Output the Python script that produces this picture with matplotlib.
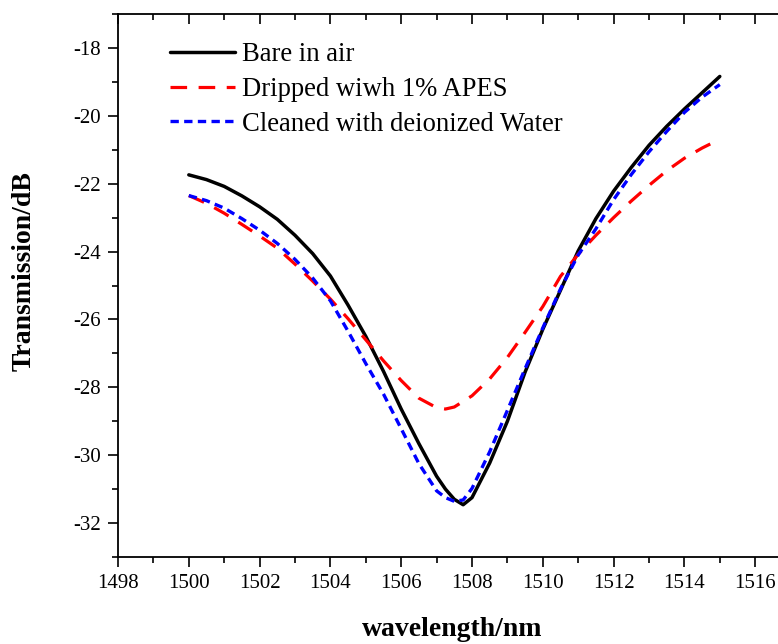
import matplotlib
matplotlib.use("Agg")
import matplotlib.pyplot as plt
from matplotlib.ticker import MultipleLocator

plt.rcParams['font.family'] = ['Liberation Serif', 'DejaVu Serif']
plt.rcParams['axes.unicode_minus'] = False

wl_bare = [1500.0, 1500.5, 1501.0, 1501.5, 1502.0, 1502.5, 1503.0, 1503.5, 1504.0, 1504.5,
           1505.0, 1505.5, 1506.0, 1506.5, 1507.0, 1507.25, 1507.5, 1507.75, 1508.0, 1508.5,
           1509.0, 1509.5, 1510.0, 1510.5, 1511.0, 1511.5, 1512.0, 1512.5, 1513.0, 1513.5,
           1514.0, 1514.5, 1515.0]
t_bare = [-21.74, -21.88, -22.08, -22.36, -22.68, -23.05, -23.52, -24.06, -24.72, -25.58,
          -26.50, -27.53, -28.64, -29.66, -30.62, -31.00, -31.30, -31.46, -31.25, -30.23,
          -29.00, -27.55, -26.29, -25.14, -23.98, -23.03, -22.22, -21.52, -20.87, -20.31,
          -19.80, -19.32, -18.84]

wl_apes = [1500.0, 1500.5, 1501.0, 1501.5, 1502.0, 1502.5, 1503.0, 1503.5, 1504.0, 1504.5,
           1505.0, 1505.5, 1506.0, 1506.5, 1507.0, 1507.25, 1507.5, 1508.0, 1508.5,
           1509.0, 1509.5, 1510.0, 1510.5, 1511.0, 1511.5, 1512.0, 1512.5, 1513.0, 1513.5,
           1514.0, 1514.5, 1515.0]
t_apes = [-22.35, -22.58, -22.87, -23.20, -23.54, -23.90, -24.37, -24.87, -25.40, -25.98,
          -26.60, -27.22, -27.80, -28.32, -28.60, -28.64, -28.58, -28.25, -27.75,
          -27.12, -26.38, -25.62, -24.73, -24.08, -23.52, -23.00, -22.51, -22.05, -21.62,
          -21.25, -20.95, -20.69]

wl_clean = [1500.0, 1500.5, 1501.0, 1501.5, 1502.0, 1502.5, 1503.0, 1503.5, 1504.0, 1504.5,
            1505.0, 1505.5, 1506.0, 1506.5, 1507.0, 1507.25, 1507.5, 1507.75, 1508.0, 1508.5,
            1509.0, 1509.5, 1510.0, 1510.5, 1511.0, 1511.5, 1512.0, 1512.5, 1513.0, 1513.5,
            1514.0, 1514.5, 1515.0]
t_clean = [-22.35, -22.50, -22.72, -23.03, -23.37, -23.76, -24.23, -24.78, -25.45, -26.35,
           -27.30, -28.20, -29.22, -30.25, -31.05, -31.25, -31.36, -31.32, -30.98, -29.90,
           -28.68, -27.45, -26.25, -25.10, -24.10, -23.33, -22.47, -21.73, -21.06, -20.46,
           -19.90, -19.45, -19.08]

labels = ["Bare in air", "Dripped wiwh 1% APES", "Cleaned with deionized Water"]

fig = plt.figure(figsize=(7.78, 6.44), dpi=100)
ax = fig.add_axes([118/778, 1-557/644, 672.6/778, 543/644])

ax.plot(wl_bare, t_bare, color='black', lw=2.5, solid_capstyle='round', label=labels[0])
ax.plot(wl_apes, t_apes, color='red', lw=2.3, dashes=(5.2, 3.6), label=labels[1])
ax.plot(wl_clean, t_clean, color='blue', lw=2.4, dashes=(2.5, 1.6), label=labels[2])

ax.set_xlim(1498, 1517)
ax.set_ylim(-33, -17)
ax.xaxis.set_major_locator(MultipleLocator(2))
ax.xaxis.set_minor_locator(MultipleLocator(1))
ax.yaxis.set_major_locator(MultipleLocator(2))
ax.yaxis.set_minor_locator(MultipleLocator(1))

for s in ax.spines.values():
    s.set_linewidth(1.3)
ax.spines['top'].set_visible(False)

ax.tick_params(axis='both', which='major', direction='out', length=7.5, width=1.2, labelsize=15, pad=5)
ax.tick_params(axis='both', which='minor', direction='out', length=4, width=1.2)
ax.tick_params(axis='y', which='both', right=False)
ax.tick_params(axis='x', which='both', top=False)

# top axis with inward ticks
sec = ax.secondary_xaxis('top')
sec.xaxis.set_major_locator(MultipleLocator(2))
sec.xaxis.set_minor_locator(MultipleLocator(1))
sec.spines['top'].set_linewidth(1.3)
sec.tick_params(axis='x', which='major', direction='in', length=7.5, width=1.2, labeltop=False)
sec.tick_params(axis='x', which='minor', direction='in', length=4, width=1.2)

ax.set_xlabel("wavelength/nm", fontsize=20, fontweight='bold')
ax.set_ylabel("Transmission/dB", fontsize=20, fontweight='bold')
ax.xaxis.set_label_coords(0.497, -0.110)
ax.yaxis.set_label_coords(-0.121, 0.527)

leg = ax.legend(loc='upper left', bbox_to_anchor=((170-118)/672.6, (557-42)/543),
                frameon=False, fontsize=19.2, handlelength=2.45, handletextpad=0.25,
                labelspacing=0.37, borderpad=0, borderaxespad=0)

fig.savefig("out.png", dpi=100)
